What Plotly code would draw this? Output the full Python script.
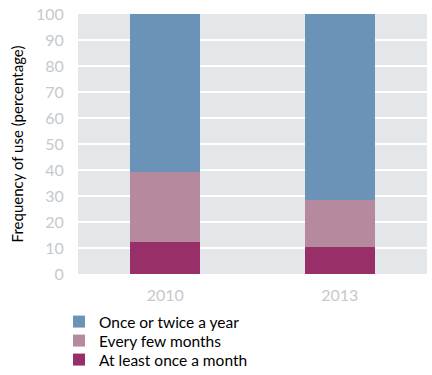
import plotly.graph_objects as go

years = ["2010", "2013"]
at_least_monthly = [12.5, 10.5]
every_few_months = [26.7, 18.0]
once_or_twice = [60.8, 71.5]

series_names = ["At least once a month", "Every few months", "Once or twice a year"]
series_values = [at_least_monthly, every_few_months, once_or_twice]
colors = ["#982f69", "#b58a9e", "#6b93b8"]
legend_ids = ["legend3", "legend2", "legend"]
legend_rows = [360, 341, 322]  # vertical pixel position of each legend row

W, H = 432, 375
fig = go.Figure()
for name, vals, col, lg in zip(series_names, series_values, colors, legend_ids):
    fig.add_trace(go.Bar(x=years, y=vals, name=name, legend=lg,
                         marker=dict(color=col, line=dict(width=0))))

font_family = "Lato, 'Open Sans', sans-serif"
leg_common = dict(
    orientation="v", x=-0.0544, xanchor="left", yref="container", yanchor="middle",
    font=dict(size=15.5, color="black"), itemwidth=30, bgcolor="rgba(0,0,0,0)",
)
legends = {lg: dict(leg_common, y=1 - row / H) for lg, row in zip(legend_ids, legend_rows)}

fig.update_layout(
    barmode="stack",
    bargap=0.6,
    width=W, height=H,
    margin=dict(l=78, r=5, t=14, b=101, autoexpand=False),
    paper_bgcolor="white",
    plot_bgcolor="#e4e7ea",
    font=dict(family=font_family, size=14, color="black"),
    showlegend=True,
    xaxis=dict(
        automargin=False,
        tickfont=dict(size=16, color="#c5c9cd"),
        showgrid=False, ticks="outside", ticklen=7, tickcolor="rgba(0,0,0,0)",
    ),
    yaxis=dict(
        automargin=False,
        range=[0, 100], dtick=10,
        tickfont=dict(size=16, color="#c5c9cd"),
        gridcolor="white", gridwidth=1.5,
        showline=False, zeroline=False,
        ticks="outside", ticklen=10, tickcolor="rgba(0,0,0,0)",
        title=dict(text="Frequency of use (percentage)", font=dict(size=15, color="black"), standoff=8),
    ),
    **legends,
)

fig.write_html("out.html", config={"displayModeBar": False},
               post_script="document.body.style.margin='0px';")
